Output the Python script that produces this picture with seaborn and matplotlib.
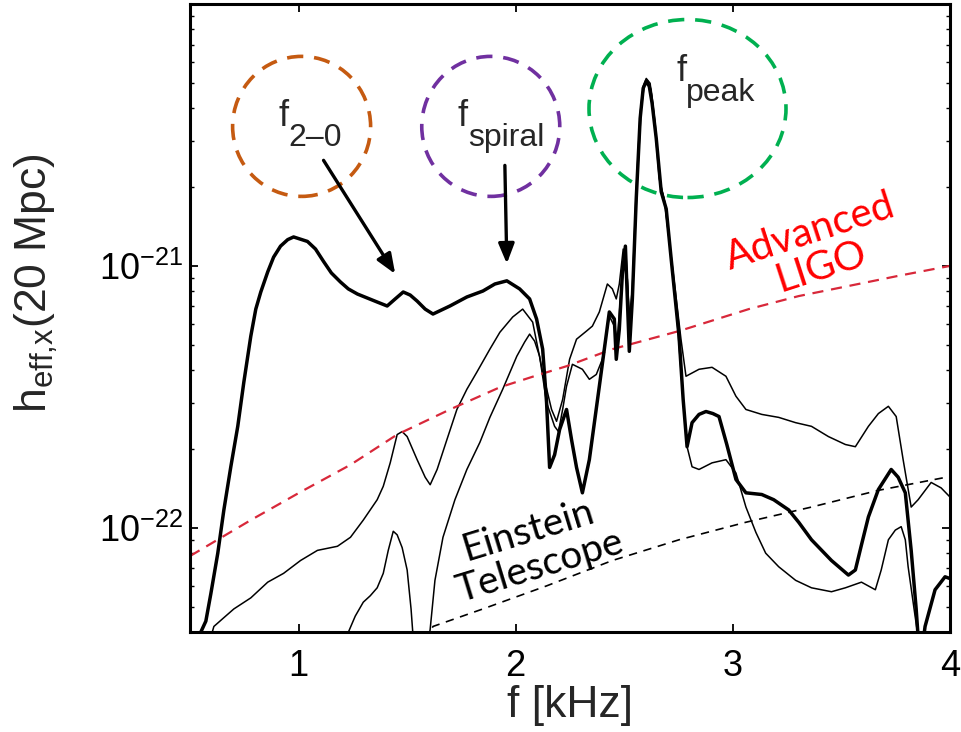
import numpy as np
import pandas as pd
import matplotlib
matplotlib.use("Agg")
import matplotlib.pyplot as plt
from matplotlib.patches import Ellipse
from matplotlib.transforms import ScaledTranslation
from matplotlib.ticker import FixedLocator, LogLocator, NullFormatter
import seaborn as sns

# Strain values are given in units of 1e-22, frequencies in kHz.
H_UNIT = 1e-22

# Thick curve (main model)
thick_f = [0.550, 0.573, 0.596, 0.628, 0.656, 0.688, 0.720, 0.748, 0.780, 0.803,
           0.826, 0.858, 0.885, 0.917, 0.950, 0.977, 1.041, 1.078, 1.115, 1.151,
           1.193, 1.229, 1.271, 1.362, 1.408, 1.445, 1.482, 1.514,
           1.546, 1.583, 1.619, 1.697, 1.775, 1.849, 1.904, 1.959, 2.018, 2.064,
           2.096, 2.124, 2.142, 2.156, 2.179, 2.202, 2.234, 2.257, 2.280, 2.307,
           2.339, 2.385, 2.431, 2.454, 2.463, 2.477, 2.491, 2.505, 2.514, 2.523,
           2.537, 2.555, 2.573, 2.587, 2.601, 2.615, 2.628, 2.647, 2.670, 2.693,
           2.716, 2.752, 2.771, 2.789, 2.812, 2.844, 2.876, 2.908, 2.936, 2.972,
           3.014, 3.060, 3.133, 3.188, 3.257, 3.303, 3.362, 3.454, 3.532, 3.564,
           3.592, 3.624, 3.670, 3.729, 3.761, 3.794, 3.821, 3.844, 3.862, 3.885,
           3.931, 3.977, 4.0]
thick_h = [0.40, 0.44, 0.56, 0.80, 1.17, 1.71, 2.44, 3.60, 5.39, 6.84,
           7.95, 9.49, 10.8, 11.9, 12.6, 12.9, 12.4, 11.6, 10.4, 9.40,
           8.68, 8.17, 7.81, 7.28, 7.03, 7.48, 7.95, 7.74,
           7.34, 6.84, 6.55, 7.03, 7.61, 8.02, 8.53, 8.77, 8.17, 7.48,
           6.27, 4.81, 3.01, 1.70, 1.90, 2.37, 2.83, 2.17, 1.70, 1.36,
           1.82, 3.47, 6.67, 6.27, 4.40, 5.74, 9.31, 11.9, 7.48, 4.72,
           7.48, 18.1, 36.6, 47.7, 50.7, 48.5, 41.8, 30.7, 19.2, 16.5,
           10.6, 5.39, 3.09, 2.04, 2.52, 2.71, 2.78, 2.73, 2.66, 2.08,
           1.53, 1.36, 1.34, 1.28, 1.17, 1.05, 0.90, 0.75, 0.66, 0.69,
           0.86, 1.10, 1.40, 1.67, 1.56, 1.36, 0.82, 0.49, 0.30, 0.42,
           0.58, 0.65, 0.64]

# Upper thin curve
thin_a_f = [0.595, 0.610, 0.651, 0.702, 0.780, 0.858, 0.931, 1.009, 1.087, 1.179, 1.239,
            1.298, 1.362, 1.390, 1.422, 1.454, 1.477, 1.500, 1.546, 1.583, 1.606,
            1.638, 1.683, 1.729, 1.775, 1.821, 1.881, 1.927, 1.986, 2.032, 2.078,
            2.124, 2.165, 2.188, 2.216, 2.248, 2.280, 2.326, 2.353, 2.385, 2.422,
            2.445, 2.463, 2.477, 2.495, 2.509, 2.523, 2.537, 2.555, 2.573, 2.587,
            2.601, 2.619, 2.638, 2.661, 2.683, 2.706, 2.734, 2.761, 2.784, 2.844,
            2.904, 2.968, 3.014, 3.060, 3.133, 3.211, 3.289, 3.362, 3.440, 3.518,
            3.564, 3.624, 3.670, 3.716, 3.752, 3.784, 3.821, 3.853, 3.913, 3.959,
            4.0]
thin_a_h = [0.38, 0.42, 0.45, 0.49, 0.54, 0.62, 0.67, 0.75, 0.82, 0.85, 0.92,
            1.07, 1.28, 1.44, 1.77, 2.27, 2.33, 2.23, 1.82, 1.56, 1.46,
            1.67, 2.17, 2.83, 3.38, 3.93, 4.81, 5.58, 6.38, 6.84, 6.10,
            3.93, 2.83, 2.55, 3.09, 4.40, 5.25, 5.64, 5.89, 6.67, 8.53,
            8.17, 7.48, 8.53, 11.6, 10.6, 6.27, 8.17, 19.7, 38.2, 48.5,
            52.0, 49.8, 36.6, 21.5, 18.1, 12.7, 8.17, 5.25, 3.79, 4.03,
            4.10, 3.79, 3.18, 2.83, 2.71, 2.64, 2.52, 2.44, 2.23, 2.08,
            2.04, 2.44, 2.73, 2.91, 2.66, 1.82, 1.20, 1.28, 1.49, 1.42,
            1.31]

# Lower thin curve
thin_b_f = [1.206, 1.261, 1.298, 1.330, 1.362, 1.390, 1.413, 1.436, 1.454, 1.477,
            1.500, 1.518, 1.532, 1.560, 1.592, 1.606, 1.628, 1.665, 1.720, 1.775,
            1.835, 1.881, 1.940, 2.005, 2.041, 2.064, 2.087, 2.110, 2.142, 2.179,
            2.197, 2.216, 2.234, 2.261, 2.307, 2.339, 2.371, 2.399, 2.431, 2.454,
            2.468, 2.482, 2.500, 2.514, 2.528, 2.541, 2.560, 2.578, 2.592, 2.606,
            2.624, 2.642, 2.665, 2.688, 2.711, 2.743, 2.771, 2.789, 2.812, 2.844,
            2.904, 2.968, 3.014, 3.060, 3.106, 3.151, 3.211, 3.289, 3.362, 3.454,
            3.518, 3.592, 3.656, 3.683, 3.716, 3.748, 3.775, 3.794, 3.807, 3.839,
            3.862, 3.876]
thin_b_h = [0.36, 0.46, 0.52, 0.55, 0.59, 0.67, 0.82, 0.97, 0.94, 0.84,
            0.69, 0.49, 0.34, 0.15, 0.34, 0.41, 0.63, 0.92, 1.28, 1.67,
            2.12, 2.64, 3.38, 4.52, 5.12, 5.49, 5.16, 4.52, 3.01, 2.44,
            2.33, 2.83, 3.47, 4.21, 4.03, 3.69, 3.85, 4.40, 6.43, 5.89,
            5.25, 7.48, 10.6, 8.91, 5.49, 8.91, 21.5, 40.0, 49.0, 51.2,
            46.9, 35.0, 20.6, 17.3, 11.6, 6.27, 3.09, 2.04, 1.71, 1.67,
            1.77, 1.82, 1.62, 1.20, 0.96, 0.80, 0.71, 0.63, 0.59, 0.57,
            0.59, 0.62, 0.58, 0.69, 0.90, 0.98, 1.01, 0.90, 0.71, 0.46,
            0.34, 0.22]

# Detector sensitivity curves
ligo_f = [0.5, 0.780, 1.009, 1.239, 1.454, 1.697, 1.927, 2.110, 2.234, 2.445,
          2.752, 3.073, 3.303, 3.532, 3.761, 4.0]
ligo_h = [0.78, 1.07, 1.37, 1.74, 2.27, 2.83, 3.44, 3.85, 4.14, 4.81,
          5.64, 6.84, 7.67, 8.38, 9.16, 10.0]

et_f = [1.583, 1.619, 1.849, 2.142, 2.445, 2.752, 3.060, 3.362, 3.670, 4.0]
et_h = [0.37, 0.42, 0.49, 0.60, 0.75, 0.90, 1.05, 1.20, 1.39, 1.57]

x_ticks = [1, 2, 3, 4]
x_tick_labels = ["1", "2", "3", "4"]
y_ticks = [1e-22, 1e-21]

sns.set_style("ticks")
plt.rcParams.update({
    "font.family": ["Liberation Sans", "DejaVu Sans"],
    "mathtext.fontset": "custom",
    "mathtext.rm": "Liberation Sans",
    "mathtext.it": "Liberation Sans:italic",
    "mathtext.bf": "Liberation Sans:bold",
    "mathtext.default": "regular",
})

fig = plt.figure(figsize=(9.61, 7.32), dpi=100)
ax = fig.add_axes([0.1977, 0.1366, 0.7909, 0.8579])


def frame(f, h):
    return pd.DataFrame({"f": f, "h": np.asarray(h) * H_UNIT})


for f, h in [(thin_a_f, thin_a_h), (thin_b_f, thin_b_h)]:
    sns.lineplot(data=frame(f, h), x="f", y="h", ax=ax, color="black",
                 linewidth=1.1, sort=False, estimator=None, zorder=2)
sns.lineplot(data=frame(thick_f, thick_h), x="f", y="h", ax=ax, color="black",
             linewidth=2.5, sort=False, estimator=None, zorder=3)
sns.lineplot(data=frame(ligo_f, ligo_h), x="f", y="h", ax=ax, color="#D8283A",
             linewidth=1.6, linestyle=(0, (5, 3.5)), sort=False, estimator=None, zorder=2)
sns.lineplot(data=frame(et_f, et_h), x="f", y="h", ax=ax, color="black",
             linewidth=1.2, linestyle=(0, (5, 4)), sort=False, estimator=None, zorder=2)

ax.set_yscale("log")
ax.set_xlim(0.5, 4.0)
ax.set_ylim(4e-23, 1e-20)

ax.set_xticks(x_ticks)
ax.set_xticklabels(x_tick_labels)
ax.yaxis.set_major_locator(FixedLocator(y_ticks))
ax.yaxis.set_minor_locator(LogLocator(base=10, subs=np.arange(2, 10), numticks=50))
ax.yaxis.set_minor_formatter(NullFormatter())

ax.tick_params(which="both", direction="in", top=True, right=True, colors="black")
ax.tick_params(which="major", length=6, width=1.3, labelsize=26)
ax.tick_params(which="minor", length=3, width=1.0)
ax.tick_params(axis="x", which="major", pad=12)
ax.tick_params(axis="y", which="major", pad=5)
for s in ax.spines.values():
    s.set_linewidth(2.2)
    s.set_color("black")

ax.set_xlabel("f [kHz]", fontsize=32)
ax.set_ylabel(r"$h_{eff{,}x}$(20 Mpc)", fontsize=32)
ax.xaxis.set_label_coords(0.5, -0.085)
ax.yaxis.set_label_coords(-0.171, 0.556)


def ring(fc, hc, w_px, h_px, color):
    e = Ellipse((0, 0), width=w_px / 100, height=h_px / 100,
                transform=fig.dpi_scale_trans + ScaledTranslation(fc, hc * H_UNIT, ax.transData),
                fill=False, edgecolor=color, linewidth=2.6, linestyle=(0, (4.5, 3.0)),
                clip_on=False, zorder=4)
    ax.add_artist(e)


ring(1.014, 34.1, 138, 140, "#C55A11")
ring(1.885, 34.1, 138, 140, "#7030A0")
ring(2.791, 39.9, 197, 178, "#00B050")


def freq_label(fx, hy, sub):
    ax.annotate("f", xy=(fx, hy * H_UNIT), xycoords="data", fontsize=26,
                ha="left", va="baseline", zorder=5)
    ax.annotate(sub, xy=(fx, hy * H_UNIT), xycoords="data", xytext=(7.2, -14.4),
                textcoords="offset points", fontsize=23, ha="left", va="baseline", zorder=5)


freq_label(0.908, 34.1, "2\u20130")
freq_label(1.734, 34.1, "spiral")
freq_label(2.739, 50.7, "peak")

arrow_style = dict(arrowstyle="-|>,head_length=0.75,head_width=0.3", color="black",
                   linewidth=2.4, mutation_scale=16, shrinkA=0, shrinkB=0)
ax.annotate("", xy=(1.445, 9.32 * H_UNIT), xytext=(1.115, 25.3 * H_UNIT),
            arrowprops=arrow_style, zorder=5)
ax.annotate("", xy=(1.959, 10.2 * H_UNIT), xytext=(1.950, 24.2 * H_UNIT),
            arrowprops=arrow_style, zorder=5)

ax.text(3.381, 11.6 * H_UNIT, "Advanced\nLIGO", color="#FF0000", fontsize=29,
        family=["Lato", "DejaVu Sans"], rotation=18, ha="center", va="center",
        multialignment="center", linespacing=1.0, zorder=5)
ax.text(2.085, 0.83 * H_UNIT, "Einstein\nTelescope", color="black", fontsize=28,
        family=["Lato", "DejaVu Sans"], rotation=17, ha="center", va="center",
        multialignment="center", linespacing=1.05, zorder=5)

fig.savefig("out.png", dpi=100)
